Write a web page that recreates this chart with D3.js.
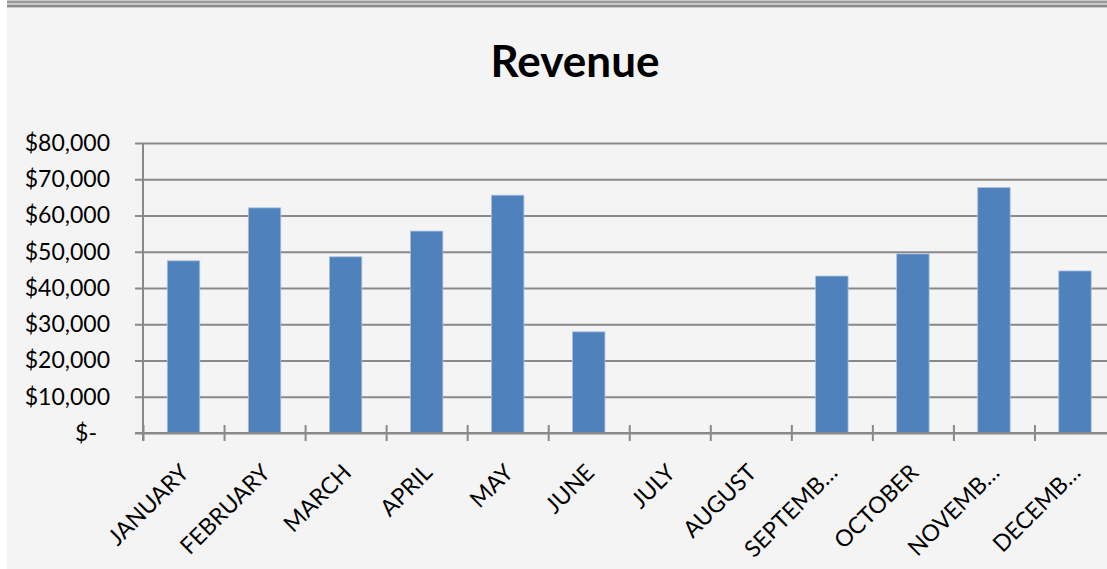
<html>
<head>
  <meta charset="utf-8">
  <title>Revenue</title>
  <style>
    body {
        margin: 0;
        background: #ffffff;
        font-family: Lato, "Open Sans", sans-serif;
    }
  </style>
  <script src="https://d3js.org/d3.v7.min.js"></script>
</head>
<body>
  <div id="chart"></div>

  <script>
    // Data
    var months = ["JANUARY", "FEBRUARY", "MARCH", "APRIL", "MAY", "JUNE",
                  "JULY", "AUGUST", "SEPTEMB\u2026", "OCTOBER", "NOVEMB\u2026", "DECEMB\u2026"];
    var revenue = [47500, 62100, 48600, 55700, 65600, 27900,
                   0, 0, 43300, 49400, 67700, 44700];
    var yTicks = [0, 10000, 20000, 30000, 40000, 50000, 60000, 70000, 80000];

{
    var W = 1107, H = 569;
    var plotLeft = 143, plotRight = 1115.5, plotTop = 143, plotBottom = 433;

    var svg = d3.select("#chart").append("svg")
        .attr("width", W)
        .attr("height", H);

    // Chart area background + the double border along the top
    svg.append("rect")
        .attr("x", 7).attr("y", 0)
        .attr("width", W - 7).attr("height", H)
        .attr("fill", "#f4f4f4");
    svg.append("rect").attr("x", 7).attr("y", 0).attr("width", W - 7).attr("height", 8).attr("fill", "#c8c8c8");
    svg.append("rect").attr("x", 7).attr("y", 1).attr("width", W - 7).attr("height", 2).attr("fill", "#9a9a9a");
    svg.append("rect").attr("x", 7).attr("y", 5).attr("width", W - 7).attr("height", 2).attr("fill", "#8a8a8a");

    // Title
    svg.append("text")
        .attr("x", 575)
        .attr("y", 77)
        .attr("text-anchor", "middle")
        .style("font-size", "44px")
        .style("font-weight", "bold")
        .style("fill", "#000")
        .text("Revenue");

    // Scales
    var x = d3.scaleBand()
        .domain(months)
        .range([plotLeft, plotRight])
        .padding(0);
    var y = d3.scaleLinear()
        .domain([0, 80000])
        .range([plotBottom, plotTop]);

    // Y axis with gridlines
    var yAxis = svg.append("g")
        .attr("transform", "translate(135,0)")
        .call(d3.axisLeft(y)
            .tickValues(yTicks)
            .tickSizeInner(-(W - 135))
            .tickSizeOuter(0)
            .tickPadding(25)
            .tickFormat(function(d) { return d === 0 ? "$-" : "$" + d3.format(",")(d); }));
    yAxis.select(".domain").remove();
    yAxis.selectAll(".tick line")
        .attr("stroke", "#898989")
        .attr("stroke-width", 2);
    yAxis.selectAll(".tick text")
        .style("font-family", "Lato, 'Open Sans', sans-serif")
        .style("font-size", "23px")
        .style("fill", "#000")
        .attr("dx", function(d) { return d === 0 ? -13 : 0; });

    // Bars
    svg.selectAll(".bar")
        .data(revenue)
        .enter()
        .append("rect")
        .attr("class", "bar")
        .attr("x", function(d, i) { return x(months[i]) + x.bandwidth() * 0.3; })
        .attr("y", function(d) { return y(d); })
        .attr("width", x.bandwidth() * 0.4)
        .attr("height", function(d) { return plotBottom - y(d); })
        .attr("fill", "#4f81bd")
        .attr("stroke", "#a7bfde")
        .attr("stroke-width", 0.8);

    // Category tick marks at band boundaries
    var xb = d3.scaleLinear().domain([0, months.length]).range([plotLeft, plotRight]);
    var xTicks = svg.append("g")
        .attr("transform", "translate(0,425)")
        .call(d3.axisBottom(xb)
            .tickValues(d3.range(0, months.length + 1))
            .tickSizeInner(16)
            .tickSizeOuter(0)
            .tickFormat(""));
    xTicks.select(".domain").remove();
    xTicks.selectAll(".tick line")
        .attr("stroke", "#898989")
        .attr("stroke-width", 2);

    // Axis lines
    svg.append("line")
        .attr("x1", 135).attr("x2", W)
        .attr("y1", plotBottom).attr("y2", plotBottom)
        .attr("stroke", "#898989").attr("stroke-width", 2);
    svg.append("line")
        .attr("x1", plotLeft).attr("x2", plotLeft)
        .attr("y1", plotTop).attr("y2", 441)
        .attr("stroke", "#898989").attr("stroke-width", 2);

    // Rotated category labels
    svg.selectAll(".xlabel")
        .data(months)
        .enter()
        .append("text")
        .attr("class", "xlabel")
        .attr("transform", function(d) {
            return "translate(" + (x(d) + x.bandwidth() / 2 + 7) + ",474) rotate(-45)";
        })
        .attr("text-anchor", "end")
        .style("font-size", "23px")
        .style("fill", "#000")
        .text(function(d) { return d; });
}
  </script>
</body>
</html>
